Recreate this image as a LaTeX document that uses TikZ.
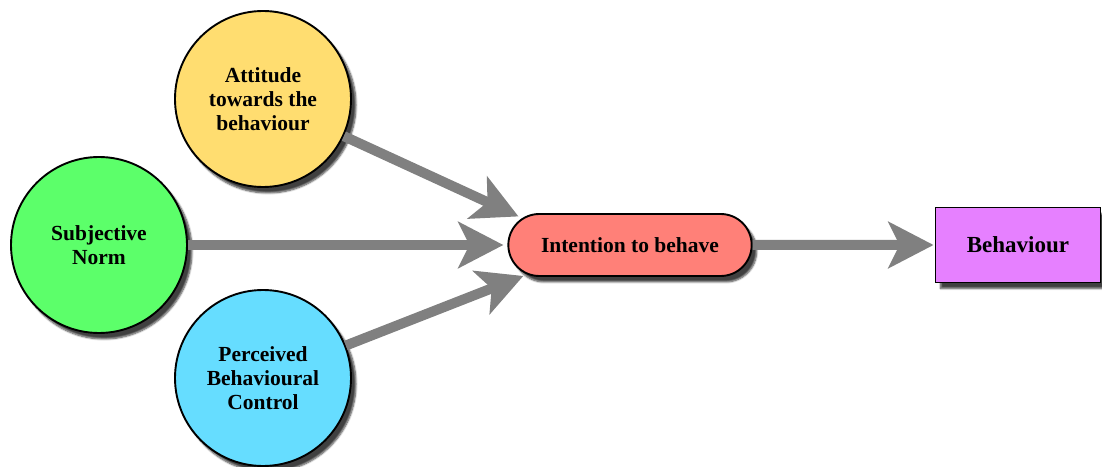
\documentclass[tikz,border=0pt]{standalone}
\usepackage{fontspec}
\setmainfont{Liberation Serif}
\usetikzlibrary{arrows.meta,shapes.misc,shadows.blur}
\definecolor{attyellow}{RGB}{255,221,112}
\definecolor{normgreen}{RGB}{92,255,106}
\definecolor{pbcblue}{RGB}{102,221,255}
\definecolor{intsalmon}{RGB}{255,128,120}
\definecolor{behviolet}{RGB}{230,128,255}
\definecolor{arrowgray}{RGB}{128,128,128}
\begin{document}
\begin{tikzpicture}[x=1pt,y=1pt,
  shade/.style={blur shadow={shadow xshift=5pt,shadow yshift=-6pt,shadow blur steps=6,shadow opacity=75}},
  factor/.style={circle,draw=black,line width=1.9pt,minimum size=176pt,inner sep=0pt,
    align=center,font=\fontsize{21.5}{24}\selectfont\bfseries,shade},
  intent/.style={rounded rectangle,draw=black,line width=1.9pt,minimum width=250pt,minimum height=62pt,
    font=\fontsize{21.5}{24}\selectfont\bfseries,fill=intsalmon,shade},
  outcome/.style={rectangle,draw=black,line width=1.9pt,minimum width=165pt,minimum height=75pt,
    font=\fontsize{23}{26}\selectfont\bfseries,fill=behviolet,shade},
  flow/.style={draw=arrowgray,line width=10pt,-{Stealth[width=46pt,length=45pt,inset=11pt]},arrowgray}]
\useasboundingbox (0,0) rectangle (1102,466);
\node[factor,fill=attyellow] (att) at (263,367) {Attitude\\towards the\\behaviour};
\node[factor,fill=normgreen] (norm) at (99,221) {Subjective\\Norm};
\node[factor,fill=pbcblue] (pbc) at (263,88) {Perceived\\Behavioural\\Control};
\node[intent] (int) at (630,221) {Intention to behave};
\node[outcome] (beh) at (1018,221) {Behaviour};
\draw[flow,shorten >=4pt] (att) -- (int.166);
\draw[flow,shorten >=4pt] (norm) -- (int);
\draw[flow,shorten >=4pt] (pbc) -- (int.196);
\draw[flow,shorten >=1pt] (int) -- (beh);
\end{tikzpicture}
\end{document}
